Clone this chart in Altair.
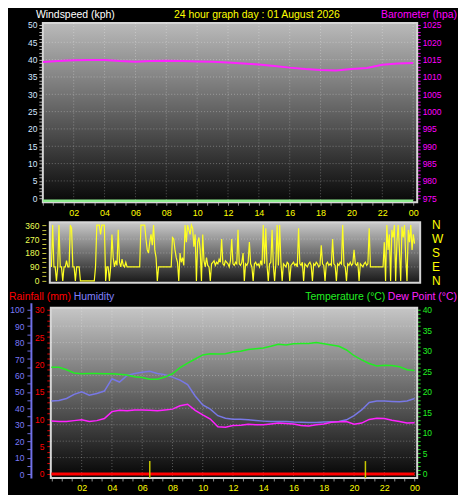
import altair as alt
import pandas as pd

# ------------------------------------------------------------------ data
HOURS = list(range(25))
BARO = [1014.3, 1014.6, 1014.8, 1014.9, 1014.9, 1014.6, 1014.4, 1014.6, 1014.7, 1014.6,
        1014.5, 1014.4, 1014.2, 1013.9, 1013.6, 1013.2, 1012.7, 1012.3, 1012.0, 1011.9,
        1012.3, 1012.6, 1013.5, 1013.9, 1014.0]
WIND_SPEED = [0, 0, 0, 0, 0, 0, 0, 0, 0, 0, 0, 0, 0, 0, 0, 0, 0, 0, 0, 0, 0, 0, 0, 0, 0]
RAIN = [0, 0, 0, 0, 0, 0, 0, 0, 0, 0, 0, 0, 0, 0, 0, 0, 0, 0, 0, 0, 0, 0, 0, 0, 0]

# wind direction, one reading every 5 minutes (12 per hour)
DIR_TIMES = [i / 12 for i in range(289)]
WIND_DIR = [
    90, 360, 90, 90, 0, 90, 360, 90, 90, 0, 90, 90,
    130, 90, 90, 360, 340, 90, 90, 0, 90, 90, 90, 0,
    0, 0, 0, 0, 0, 0, 0, 0, 0, 0, 0, 90,
    360, 360, 360, 300, 360, 360, 360, 0, 90, 90, 0, 90,
    300, 150, 90, 130, 100, 330, 120, 90, 140, 100, 90, 120,
    90, 90, 90, 90, 90, 90, 90, 90, 90, 90, 90, 360,
    360, 360, 360, 270, 200, 180, 250, 300, 230, 360, 200, 150,
    0, 90, 90, 90, 90, 90, 90, 90, 90, 90, 90, 90,
    280, 270, 200, 150, 120, 0, 180, 120, 150, 100, 360, 250,
    360, 330, 300, 360, 340, 220, 300, 0, 250, 280, 200, 0,
    300, 130, 90, 150, 100, 90, 0, 110, 120, 130, 100, 120,
    110, 140, 120, 270, 110, 100, 130, 120, 110, 90, 130, 270,
    110, 100, 120, 110, 330, 110, 100, 120, 180, 0, 110, 100,
    120, 250, 110, 90, 0, 110, 120, 100, 110, 90, 130, 100,
    360, 110, 340, 100, 0, 110, 120, 330, 100, 0, 110, 360,
    100, 360, 120, 0, 110, 100, 90, 120, 110, 0, 100, 110,
    120, 100, 110, 90, 340, 110, 100, 120, 0, 110, 100, 90,
    110, 120, 100, 0, 110, 100, 120, 110, 90, 100, 230, 110,
    100, 0, 110, 120, 100, 110, 100, 270, 110, 100, 0, 110,
    100, 120, 110, 360, 100, 90, 0, 110, 100, 120, 100, 110,
    200, 110, 100, 120, 0, 110, 100, 90, 110, 120, 100, 110,
    340, 90, 90, 90, 90, 90, 90, 90, 90, 90, 90, 90,
    250, 0, 360, 200, 300, 0, 330, 280, 360, 0, 250, 360,
    200, 0, 350, 280, 360, 150, 0, 330, 250, 360, 200, 300,
    240]

HALF_HOURS = [i / 2 for i in range(49)]
TEMP = [26.0, 26.0, 25.4, 24.6, 24.4, 24.5, 24.5, 24.4, 24.4, 24.3,
        24.1, 23.7, 23.5, 23.1, 23.1, 23.6, 24.4, 25.9, 27.0, 28.0,
        29.0, 29.3, 29.2, 29.3, 29.7, 29.9, 30.3, 30.5, 30.7, 31.1,
        31.6, 31.4, 31.7, 31.8, 31.8, 32.0, 31.7, 31.4, 31.1, 30.2,
        28.8, 27.8, 26.9, 26.3, 26.5, 26.4, 26.1, 25.4, 25.2]
HUMIDITY = [44.4, 44.8, 46.0, 48.5, 50.0, 48.0, 49.0, 50.5, 58.0, 56.0,
            60.0, 61.2, 62.0, 62.5, 61.2, 60.5, 59.0, 57.2, 54.5, 47.5,
            42.0, 39.5, 35.5, 34.0, 33.3, 33.3, 33.0, 32.6, 32.2, 31.9,
            31.9, 31.9, 31.6, 31.5, 31.4, 31.4, 31.6, 31.8, 32.0, 33.0,
            35.5, 39.0, 43.5, 44.4, 44.4, 44.2, 44.0, 44.4, 46.0]
DEW = [12.9, 12.8, 12.8, 13.0, 13.2, 12.8, 13.0, 13.5, 15.2, 15.5,
       15.4, 15.6, 15.6, 15.5, 15.4, 15.6, 15.8, 16.6, 17.0, 15.5,
       14.4, 13.4, 11.5, 11.4, 11.8, 11.9, 12.1, 12.0, 12.0, 12.2,
       12.4, 12.3, 12.2, 11.8, 11.7, 12.0, 12.2, 12.6, 12.7, 12.8,
       12.1, 12.4, 13.3, 13.6, 13.5, 13.1, 12.8, 12.4, 12.5]
SUN_EVENTS = [6.5, 20.75]

X_LABEL_HOURS = [2, 4, 6, 8, 10, 12, 14, 16, 18, 20, 22, 24]
X_LABELS = ["02", "04", "06", "08", "10", "12", "14", "16", "18", "20", "22", "00"]
X_TICKS = [round(k * 2 / 3, 4) for k in range(37)]
COMPASS_DEG = [360, 270, 180, 90, 0]
COMPASS = ["N", "W", "S", "E", "N"]
SERIES = ["Temperature", "Dew Point"]

TITLE_LEFT = "Windspeed (kph)"
TITLE_MID = "24 hour graph day : 01 August 2026"
TITLE_RIGHT = "Barometer (hpa)"
HEAD_RAIN = "Rainfall (mm)"
HEAD_HUM = "Humidity"
HEAD_TEMP = "Temperature (°C)"
HEAD_DEW = "Dew Point (°C)"

FONT = "Liberation Sans"
GRID_COLOR = "#ffffff"


def vgrad(top, bottom):
    return alt.Gradient(
        gradient="linear",
        stops=[alt.GradientStop(color=top, offset=0), alt.GradientStop(color=bottom, offset=1)],
        x1=0, x2=0, y1=0, y2=1)


def every_label(step):
    return f"abs(datum.value / {step} - round(datum.value / {step})) < 0.001 ? datum.label : ''"


def y_axis(orient, values, step, tick_color, label_color, tick_size=4, pad=2, offset=0,
           domain=False, domain_color="#000000"):
    kw = dict(orient=orient, values=values, labelExpr=every_label(step), format="d",
              tickColor=tick_color, tickSize=tick_size, labelColor=label_color,
              labelFontSize=8.5, labelFont=FONT, labelPadding=pad, offset=offset,
              grid=False, title=None, labelOverlap=False, labelFlush=False, domain=domain)
    if domain:
        kw.update(domainColor=domain_color, domainWidth=2)
    return alt.Axis(**kw)


def x_label_expr():
    expr = "''"
    for h, lab in zip(reversed(X_LABEL_HOURS), reversed(X_LABELS)):
        expr = f"abs(datum.value - {h}) < 0.01 ? '{lab}' : ({expr})"
    return expr


def x_axis():
    return alt.Axis(orient="bottom", values=X_TICKS, labelExpr=x_label_expr(),
                    tickColor="#8c8c8c", tickSize=3, labelColor="#ffff00",
                    labelFontSize=9, labelFont=FONT, labelPadding=3, domain=False,
                    grid=False, title=None, labelOverlap=False, labelFlush=False)


def lin(domain):
    return alt.Scale(domain=domain, nice=False, zero=False)


one = pd.DataFrame({"k": [0]})


def background(x0, y0, w, h, top, bottom):
    return alt.Chart(one).mark_rect(fill=vgrad(top, bottom), stroke="#d6d6d6",
                                    strokeWidth=2).encode(
        x=alt.value(x0), x2=alt.value(w), y=alt.value(y0), y2=alt.value(h))


def label(text, x, y, color, size=10.5, align="left"):
    return alt.Chart(one).mark_text(text=text, color=color, fontSize=size, font=FONT,
                                    align=align, baseline="top").encode(
        x=alt.value(x), y=alt.value(y))


def vgrid(xdef, y0, h):
    return alt.Chart(pd.DataFrame({"hour": X_LABEL_HOURS})).mark_rule(
        color=GRID_COLOR, opacity=0.3, strokeDash=[1, 2]).encode(
        x=xdef, y=alt.value(y0), y2=alt.value(h))


def hgrid(values, scale, x0, w):
    return alt.Chart(pd.DataFrame({"v": values})).mark_rule(
        color=GRID_COLOR, opacity=0.3, strokeDash=[1, 2]).encode(
        y=alt.Y("v:Q", scale=scale, axis=None), x=alt.value(x0), x2=alt.value(w))


# all three views share the same left edge (page x 42); the visible plot
# boxes of panels 2 and 3 start a few pixels further right.

# ------------------------------------------------------------------ panel 1
W1, H1 = 376, 180
x1 = alt.X("hour:Q", scale=lin([0, 24.26]), axis=x_axis())
wind_scale = lin([-1.149, 50.575])
baro_scale = lin([973.851, 1025.575])
df1 = pd.DataFrame({"hour": HOURS, "wind": WIND_SPEED, "baro": BARO})

wind_line = alt.Chart(df1).mark_line(color="#90ee90", strokeWidth=2.5, yOffset=2.5).encode(
    x=x1, y=alt.Y("wind:Q", scale=wind_scale,
                  axis=y_axis("left", list(range(0, 51)), 5, "#b4b4b4", "#d4e6ff")))
baro_line = alt.Chart(df1).mark_line(color="#ff22ff", strokeWidth=2).encode(
    x=x1, y=alt.Y("baro:Q", scale=baro_scale,
                  axis=y_axis("right", list(range(975, 1026)), 5, "#e000e0", "#ff00ff",
                              tick_size=3)))

p1 = alt.layer(
    background(0, 0, W1, H1, "#bababa", "#080808"),
    vgrid(x1, 0, H1),
    hgrid(list(range(5, 50, 5)), wind_scale, 0, W1),
    wind_line,
    baro_line,
    label(TITLE_LEFT, -7, -13, "#ffffff"),
    label(TITLE_MID, 215, -13, "#ffff00", align="center"),
    label(TITLE_RIGHT, 416, -13, "#ff00ff", align="right"),
).resolve_scale(y="independent").properties(width=W1, height=H1)

# ------------------------------------------------------------------ panel 2
W2, H2 = 379, 61
X2 = 7
x2d = alt.X("hour:Q", scale=lin([-0.566, 24.37]), axis=None)
dir_scale = lin([-12.9, 379.3])
df2 = pd.DataFrame({"hour": DIR_TIMES, "dir": WIND_DIR})
dir_line = alt.Chart(df2).mark_line(color="#ffff22", strokeWidth=1.2).encode(
    x=x2d, y=alt.Y("dir:Q", scale=dir_scale,
                   axis=y_axis("left", list(range(0, 361, 30)), 90, "#c8c83c", "#eeff55",
                               pad=3, offset=-3)))
compass = alt.Chart(pd.DataFrame({"deg": COMPASS_DEG, "lab": COMPASS})).mark_text(
    align="left", baseline="middle", color="#ffff00", fontSize=12, font=FONT).encode(
    y=alt.Y("deg:Q", scale=dir_scale, axis=None), x=alt.value(W2 + 12), text="lab:N")

p2 = alt.layer(
    background(X2, 0, W2, H2, "#cacaca", "#181818"),
    hgrid([90, 180, 270], dir_scale, X2, W2),
    dir_line,
    compass,
).resolve_scale(y="independent").properties(width=W2, height=H2)

# ------------------------------------------------------------------ panel 3
W3, H3 = 376, 176
X3, Y3 = 8, 5
x3 = alt.X("hour:Q", scale=lin([-0.566, 24.17]), axis=x_axis())
hum_scale = lin([-2.42, 104.24])
rain_scale = lin([-0.727, 31.27])
temp_scale = lin([-0.97, 41.697])

df_rain = pd.DataFrame({"hour": HOURS, "rain": RAIN})
df_hum = pd.DataFrame({"hour": HALF_HOURS, "hum": HUMIDITY})
df_td = pd.DataFrame({"hour": HALF_HOURS + HALF_HOURS, "val": TEMP + DEW,
                      "series": [SERIES[0]] * len(TEMP) + [SERIES[1]] * len(DEW)})

rain_line = alt.Chart(df_rain).mark_line(color="#ff0000", strokeWidth=3).encode(
    x=x3, y=alt.Y("rain:Q", scale=rain_scale,
                  axis=y_axis("left", list(range(0, 31)), 5, "#e00000", "#ff0000",
                              pad=3, offset=-8)))
hum_line = alt.Chart(df_hum).mark_line(color="#7878e6", strokeWidth=1.5).encode(
    x=x3, y=alt.Y("hum:Q", scale=hum_scale,
                  axis=y_axis("left", list(range(0, 101, 5)), 10, "#7070e0", "#7a7af8",
                              pad=3, offset=12, domain=True, domain_color="#7070e8")))
td_line = alt.Chart(df_td).mark_line(strokeWidth=1.5).encode(
    x=x3,
    y=alt.Y("val:Q", scale=temp_scale,
            axis=y_axis("right", list(range(0, 41)), 5, "#22dd22", "#22ee22", tick_size=3)),
    color=alt.Color("series:N", scale=alt.Scale(domain=SERIES, range=["#22ee22", "#ff22ff"]),
                    legend=None))
sun = alt.Chart(pd.DataFrame({"hour": SUN_EVENTS})).mark_rule(
    color="#c8c800", strokeWidth=1.5).encode(x=x3, y=alt.value(H3 - 17), y2=alt.value(H3))

p3 = alt.layer(
    background(X3, Y3, W3, H3, "#c6c6c6", "#050505"),
    vgrid(x3, Y3, H3),
    hgrid(list(range(10, 100, 10)), hum_scale, X3, W3),
    rain_line,
    hum_line,
    td_line,
    sun,
    label(HEAD_RAIN, -34, -11, "#ff0000"),
    label(HEAD_HUM, 31, -11, "#8080ff"),
    label(HEAD_TEMP, 344, -11, "#22ee22", align="right"),
    label(HEAD_DEW, 416, -11, "#ff22ff", align="right"),
).resolve_scale(y="independent").properties(width=W3, height=H3)

# ------------------------------------------------------------------ layout
chart = alt.vconcat(p1, p2, p3, spacing=20, bounds="flush").properties(
    padding=0, background="#000000"
).configure_view(stroke="transparent")

chart.save("out.html", embed_options={"renderer": "svg", "actions": False})
